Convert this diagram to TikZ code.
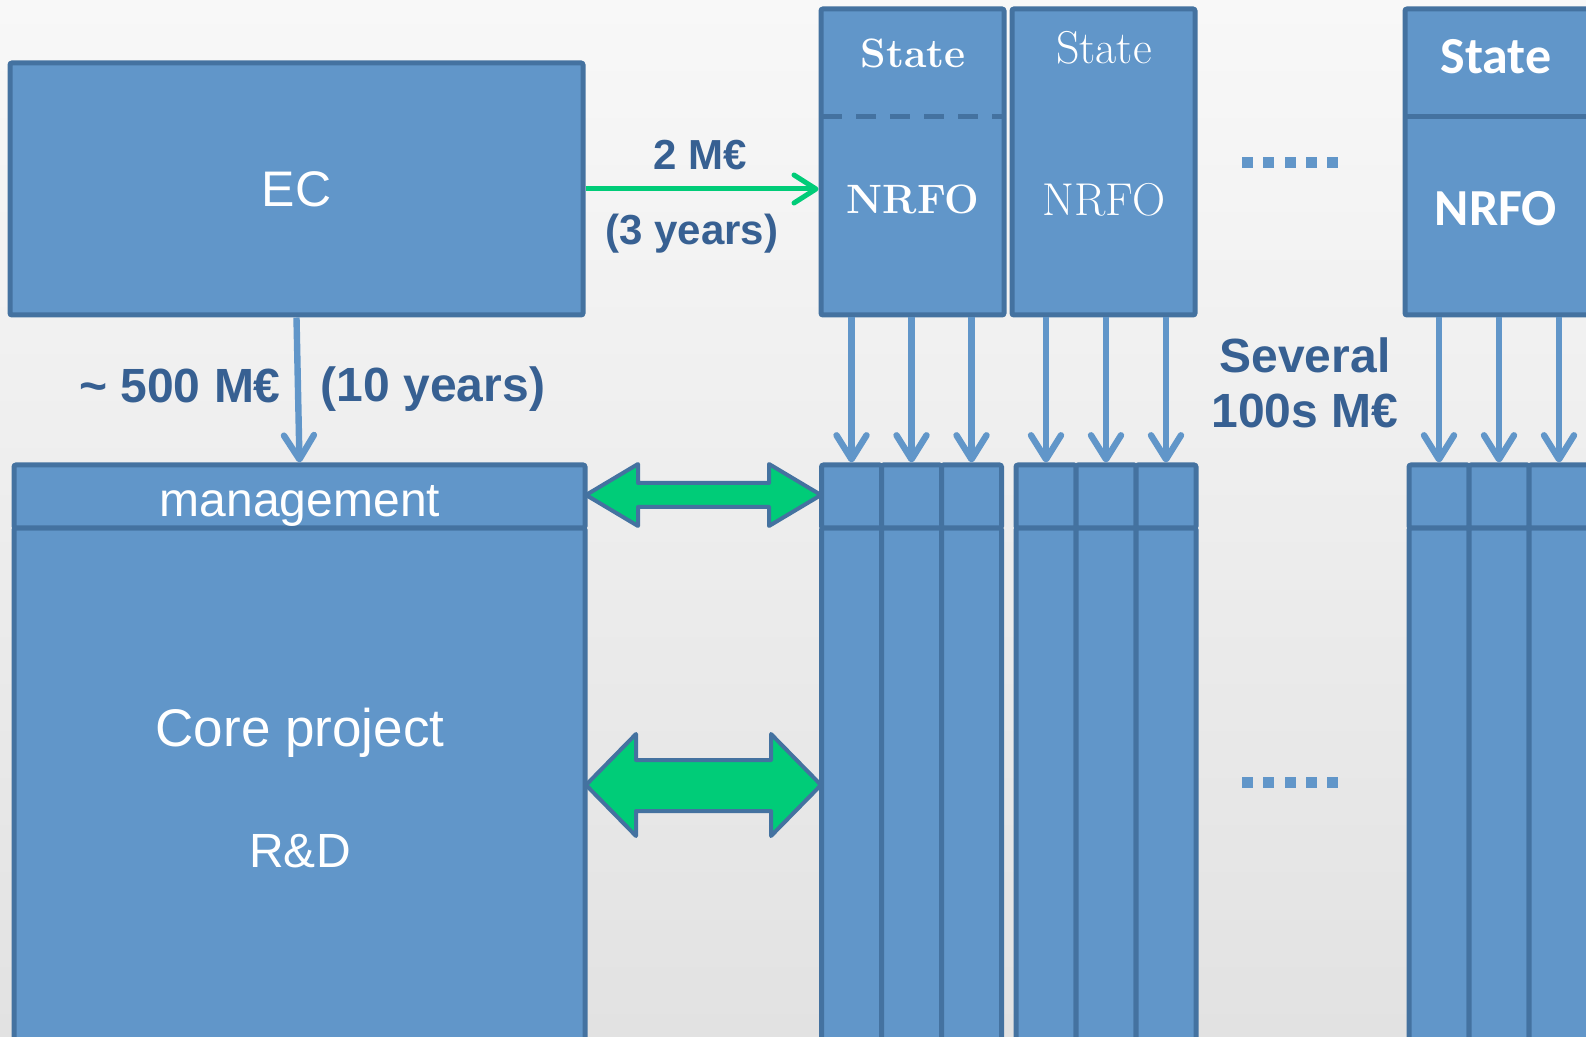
\documentclass[tikz,border=0pt]{standalone}
\usepackage{fontspec}
\usetikzlibrary{arrows.meta}
\newfontfamily\arialfont{Liberation Sans}
\newfontfamily\calibrifont{Carlito}
\definecolor{boxblue}{RGB}{97,150,201}
\definecolor{edgeblue}{RGB}{68,114,160}
\definecolor{labelblue}{RGB}{55,96,146}
\definecolor{flowgreen}{RGB}{0,204,120}
\definecolor{bgtop}{RGB}{248,248,248}
\definecolor{bgbot}{RGB}{226,226,226}

\begin{document}
\begin{tikzpicture}[x = 0.5pt, y = -0.5pt,
    box/.style = {rectangle, draw = edgeblue, fill = boxblue, line width = 2.5pt, rounded corners = 1pt, inner sep = 0pt},
    boxtext/.style = {text = white, inner sep = 0pt, font = \arialfont\fontsize{25}{30}\selectfont},
    lbl/.style = {text = labelblue, inner sep = 0pt, font = \arialfont\bfseries\fontsize{24}{28}\selectfont},
    feed/.style = {draw = boxblue, line width = 3.2pt, -{Straight Barb[round, length = 12pt, width = 15pt]}},
    link/.style = {draw = edgeblue, fill = flowgreen, line width = 2pt, line join = round}]
  \useasboundingbox (0,0) rectangle (1586,1037);
  \clip (0,0) rectangle (1586,1037);
  \shade [top color = bgtop, bottom color = bgbot] (0,0) rectangle (1586,1037);

  % EC and core project
  \node [box, boxtext, minimum width = 286.5pt, minimum height = 126pt] (ec) at (296.5,189) {EC};
  \node [box, minimum width = 285.5pt, minimum height = 266pt] (core) at (299.5,794) {};
  \node [box, minimum width = 285.5pt, minimum height = 31.5pt] (mgmt) at (299.5,496.5) {};
  \node [boxtext, font = \arialfont\fontsize{24}{28}\selectfont] (mgmttext) at (300,506) {management};
  \node [boxtext, font = \arialfont\fontsize{26.5}{30}\selectfont] (coretitle) at (300,733) {Core project};
  \node [boxtext, font = \arialfont\fontsize{24}{28}\selectfont] (corerd) at (300,851) {R\&D};
  \draw [feed] (ec.south) -- (mgmt.north);
  \node [lbl] (eclabel) at (180,386) {\textasciitilde{} 500 M€};
  \node [lbl] (ecyears) at (433,389) {(10 years)};

  % national organisations
  \node [box, minimum width = 91.5pt, minimum height = 153pt] (org1) at (912.5,162) {};
  \node [box, minimum width = 91.5pt, minimum height = 153pt] (org2) at (1103.5,162) {};
  \node [box, minimum width = 97.5pt, minimum height = 153pt] (org3) at (1502.5,162) {};
  \draw [edgeblue, line width = 2.5pt, dash pattern = on 10pt off 7pt] (822,117) -- (1003,117);
  \draw [edgeblue, line width = 2.5pt] (1405,117) -- (1600,117);
  \node [text = white, font = \bfseries\fontsize{20.5}{24}\selectfont] (state1) at (913,53) {State};
  \node [text = white, font = \bfseries\fontsize{20.5}{24}\selectfont] (nrfo1) at (913,199) {NRFO};
  \node [text = white, font = \fontsize{23}{26}\selectfont] (state2) at (1104,48) {State};
  \node [text = white, font = \fontsize{23}{26}\selectfont] (nrfo2) at (1104,200) {NRFO};
  \node [text = white, font = \calibrifont\bfseries\fontsize{26}{30}\selectfont] (state3) at (1496,57) {State};
  \node [text = white, font = \calibrifont\bfseries\fontsize{26}{30}\selectfont] (nrfo3) at (1496,209) {NRFO};

  \draw [flowgreen, line width = 2.5pt, -{Straight Barb[round, length = 11pt, width = 14pt]}] (ec.east) -- (ec.east -| org1.west);
  \node [lbl, font = \arialfont\bfseries\fontsize{21}{25}\selectfont] (ratelabel) at (700,155) {2 M€};
  \node [lbl, font = \arialfont\bfseries\fontsize{21}{25}\selectfont] (rateyears) at (692,234) {(3 years)};
  \node [lbl] (several) at (1305,355) {Several};
  \node [lbl] (hundreds) at (1305,411) {100s M€};

  % project columns
  \foreach \g/\xa in {1/851.5, 2/1046, 3/1439} {
    \foreach \c in {0,1,2} {
      \node [box, minimum width = 30pt, minimum height = 266pt] (body-\g-\c) at (\xa+\c*60,794) {};
      \node [box, minimum width = 30pt, minimum height = 31.5pt] (head-\g-\c) at (\xa+\c*60,496.5) {};
      \draw [feed] (head-\g-\c |- org\g.south) -- (head-\g-\c.north);
    }
  }

  % exchange arrows
  \draw [link] (586,495) -- (638,464) -- (638,483) -- (769,483) -- (769,464) -- (821,495)
               -- (769,526) -- (769,507) -- (638,507) -- (638,526) -- cycle;
  \draw [link] (586,785) -- (636,734) -- (636,760) -- (771,760) -- (771,734) -- (821,785)
               -- (771,836) -- (771,811) -- (636,811) -- (636,836) -- cycle;

  % dots
  \foreach \i in {0,...,4} {
    \fill [boxblue] (1242+\i*21.3,157) rectangle +(11,11);
    \fill [boxblue] (1242+\i*21.3,777) rectangle +(11,11);
  }
\end{tikzpicture}
\end{document}
